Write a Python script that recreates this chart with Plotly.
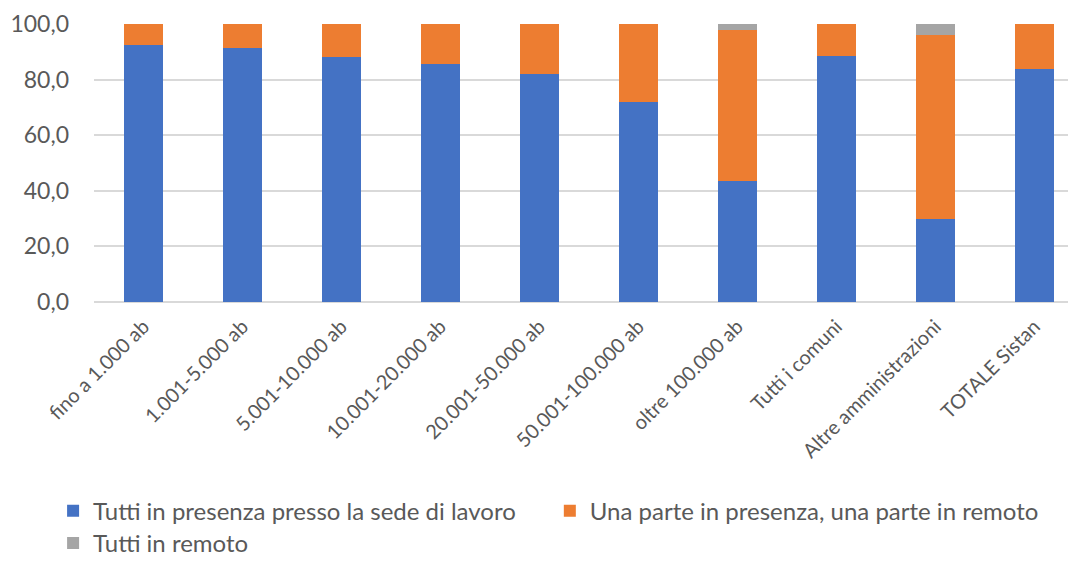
import plotly.graph_objects as go

categories = ["fino a 1.000 ab", "1.001-5.000 ab", "5.001-10.000 ab", "10.001-20.000 ab",
              "20.001-50.000 ab", "50.001-100.000 ab", "oltre 100.000 ab", "Tutti i comuni",
              "Altre amministrazioni", "TOTALE Sistan"]
in_presenza = [92.3, 91.5, 88.0, 85.7, 82.1, 71.8, 43.5, 88.4, 30.0, 83.8]
misto = [7.7, 8.5, 12.0, 14.3, 17.9, 28.2, 54.3, 11.6, 66.2, 16.2]
in_remoto = [0.0, 0.0, 0.0, 0.0, 0.0, 0.0, 2.2, 0.0, 3.8, 0.0]

series_names = ["Tutti in presenza presso la sede di lavoro",
                "Una parte in presenza, una parte in remoto",
                "Tutti in remoto"]
colors = ["#4472C4", "#ED7D31", "#A5A5A5"]
# one legend box per entry so each can sit where the original puts it
legends = ["legend", "legend3", "legend2"]

FONT = "Lato, Liberation Sans, sans-serif"
GREY = "#595959"

fig = go.Figure()
for name, vals, col, lg in zip(series_names, [in_presenza, misto, in_remoto], colors, legends):
    fig.add_trace(go.Bar(x=categories, y=vals, name=name, marker_color=col,
                         marker_line_width=0, width=0.4, legend=lg))

# the page adds an 8px body margin, so the figure is a bit smaller than the window
legend_style = dict(orientation="h", xanchor="left", yanchor="middle",
                    font=dict(family=FONT, size=24, color=GREY),
                    itemwidth=30, bgcolor="rgba(0,0,0,0)")

fig.update_layout(
    barmode="stack",
    showlegend=True,
    width=1060, height=550,
    margin=dict(l=86, r=0, t=16, b=256, autoexpand=False),
    plot_bgcolor="white", paper_bgcolor="white",
    separators=",.",
    font=dict(family=FONT, size=23, color=GREY),
    legend=dict(x=-0.042, y=-0.752, **legend_style),
    legend3=dict(x=0.468, y=-0.752, **legend_style),
    legend2=dict(x=-0.042, y=-0.868, **legend_style),
    xaxis=dict(range=[-0.5, 9.34], tickangle=-45, showgrid=False, automargin=False,
               showline=False, ticks="", tickfont=dict(size=20), ticklabelstandoff=8),
    yaxis=dict(range=[0, 100], dtick=20, tickformat=".1f", gridcolor="#d9d9d9",
               gridwidth=1.5, zeroline=True, zerolinecolor="#d9d9d9", zerolinewidth=1.5,
               automargin=False, showline=False, ticks="", tickfont=dict(size=23),
               ticklabelstandoff=24),
)

fig.write_html("out.html")
